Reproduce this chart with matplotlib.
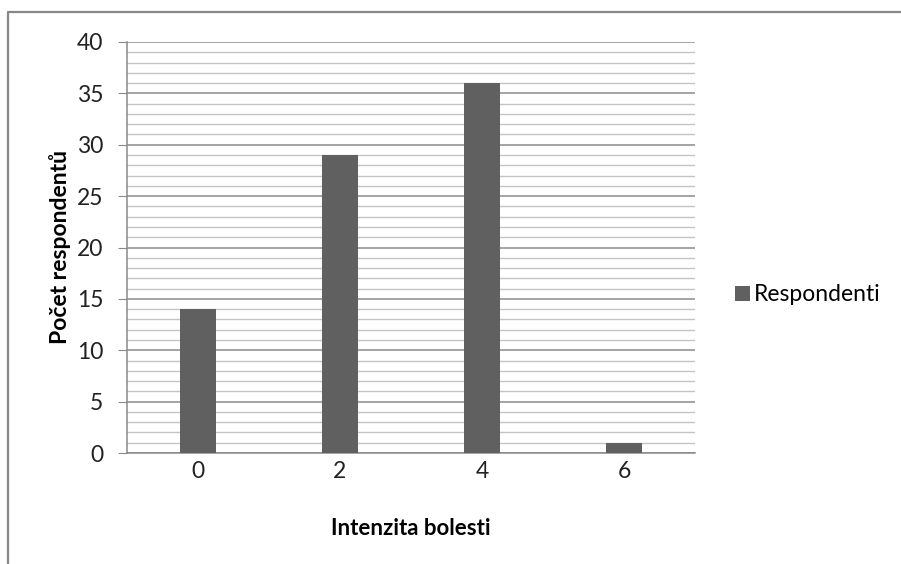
import matplotlib.pyplot as plt
from matplotlib.lines import Line2D
from matplotlib.ticker import MultipleLocator

plt.rcParams['font.family'] = ['Lato', 'DejaVu Sans']

kategorie = ["0", "2", "4", "6"]
respondenti = [14, 29, 36, 1]

bar_color = "#606060"
axis_gray = "#8a8a8a"

fig = plt.figure(figsize=(9.01, 5.64), dpi=100)
ax = fig.add_axes([127 / 901, 111 / 564, 568 / 901, 411 / 564])

x = range(len(kategorie))
ax.bar(x, respondenti, width=0.25, color=bar_color, zorder=3, label="Respondenti")

ax.set_xlim(-0.5, len(kategorie) - 0.5)
ax.set_ylim(0, 40)
ax.set_xticks(list(x))
ax.set_xticklabels(kategorie)
ax.yaxis.set_major_locator(MultipleLocator(5))
ax.yaxis.set_minor_locator(MultipleLocator(1))

ax.grid(axis="y", which="major", color="#8c8c8c", linewidth=1.1, zorder=1)
ax.grid(axis="y", which="minor", color="#c4c4c4", linewidth=1.0, zorder=1)

for side in ["top", "right"]:
    ax.spines[side].set_visible(False)
for side in ["left", "bottom"]:
    ax.spines[side].set_color(axis_gray)
    ax.spines[side].set_linewidth(1.1)

ax.tick_params(axis="y", which="major", length=6.5, color=axis_gray, pad=10.5,
               labelsize=16.5, labelcolor="#222222")
ax.tick_params(axis="y", which="minor", length=0)
ax.tick_params(axis="x", length=0, pad=5.5, labelsize=16.5, labelcolor="#222222")

ax.set_ylabel("Počet respondentů", fontsize=16.5, fontweight="bold", labelpad=4)
ax.set_xlabel("Intenzita bolesti", fontsize=16, fontweight="bold", labelpad=26)

ax.legend(loc="center left", bbox_to_anchor=(1.055, 0.385), frameon=False,
          fontsize=16.5, handlelength=0.65, handleheight=0.65, handletextpad=0.15,
          borderaxespad=0)

# outer chart frame (left and top edges)
fig.add_artist(Line2D([8 / 901, 8 / 901, 1.0], [0.0, 1 - 12 / 564, 1 - 12 / 564],
                      transform=fig.transFigure, color="#888888", linewidth=1.6))

fig.savefig("out.png", dpi=100)
